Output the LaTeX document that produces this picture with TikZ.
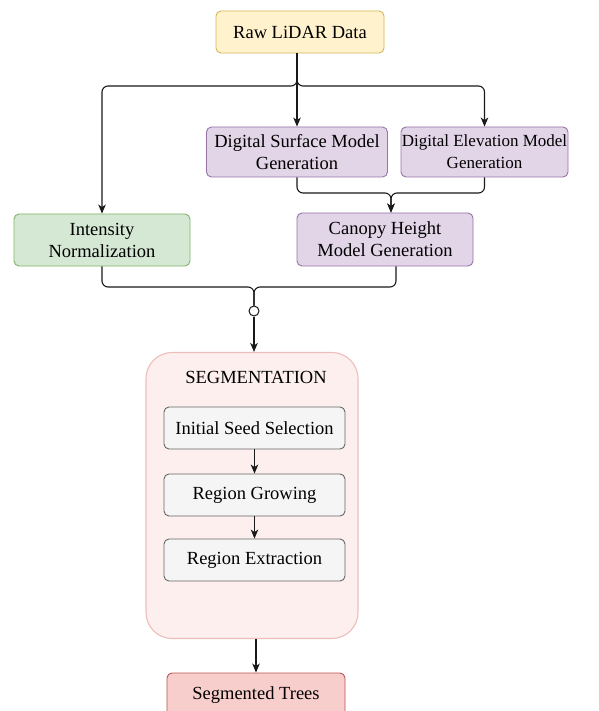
\documentclass[tikz,border=0pt]{standalone}
\usepackage{fontspec}
\setmainfont{Liberation Serif}
\usetikzlibrary{arrows.meta,positioning}

\definecolor{rawfill}{HTML}{FFF2CC}
\definecolor{rawline}{HTML}{D6B656}
\definecolor{modfill}{HTML}{E1D5E7}
\definecolor{modline}{HTML}{9673A6}
\definecolor{intfill}{HTML}{D5E8D4}
\definecolor{intline}{HTML}{82B366}
\definecolor{segfill}{HTML}{FCEFEE}
\definecolor{segline}{HTML}{EDBDBB}
\definecolor{stepfill}{HTML}{F5F5F5}
\definecolor{stepline}{HTML}{666666}
\definecolor{treefill}{HTML}{F8CECC}
\definecolor{treeline}{HTML}{B85450}

\begin{document}
\begin{tikzpicture}[x=1pt,y=-1pt,
    box/.style={draw, rounded corners=5pt, line width=0.9pt, align=center,
        inner sep=0pt, font=\fontsize{18.5}{22}\selectfont},
    modbox/.style={box, fill=modfill, draw=modline, minimum height=50pt},
    stepbox/.style={box, fill=stepfill, draw=stepline, minimum width=181pt, minimum height=42pt},
    link/.style={line width=1.1pt, draw=black!90, rounded corners=6pt,
        -{Stealth[length=9pt,width=7.5pt,inset=2.5pt]}}]
    \useasboundingbox (0,0) rectangle (598,711);

    % Input and height models
    \node[box, fill=rawfill, draw=rawline, minimum width=168pt, minimum height=42pt] (raw) at (300,32) {Raw LiDAR Data};
    \node[modbox, minimum width=181pt] (dsm) at (297,152) {Digital Surface Model\\Generation};
    \node[modbox, minimum width=167pt, font=\fontsize{17}{22}\selectfont] (dem) at (484.5,152) {Digital Elevation Model\\Generation};
    \node[box, fill=intfill, draw=intline, minimum width=176pt, minimum height=52pt] (int) at (102,240) {Intensity\\Normalization};
    \node[modbox, minimum width=176pt, minimum height=53pt] (chm) at (385,239.5) {Canopy Height\\Model Generation};

    % Segmentation block
    \node[box, fill=segfill, draw=segline, rounded corners=26pt, line width=1.1pt,
        minimum width=212pt, minimum height=286pt] (seg) at (252,495.5) {};
    \node[font=\fontsize{18.5}{22}\selectfont] (segtitle) at (256,377) {SEGMENTATION};
    \node[stepbox] (seed) at (254.5,428) {Initial Seed Selection};
    \node[stepbox] (grow) at (254.5,495) {Region Growing};
    \node[stepbox] (extr) at (254.5,560) {Region Extraction};

    % Output
    \node[box, fill=treefill, draw=treeline, minimum width=178pt, minimum height=56pt] (trees) at (256,701) {};
    \node[font=\fontsize{18.5}{22}\selectfont] (treetext) at (256,695) {Segmented Trees};

    % Branching from the raw data
    \coordinate (split) at (297,86);
    \draw[link] (raw.south -| split) -- (dsm.north);
    \draw[link] (raw.south -| split) -- (split) -| (int.north);
    \draw[link] (raw.south -| split) -- (split) -| (dem.north);

    % Surface and elevation models into the canopy model
    \coordinate (merge) at (391,193);
    \draw[link] (dsm.south) |- (merge) -- (merge |- chm.north);
    \draw[link] (dem.south) |- (merge) -- (merge |- chm.north);

    % Intensity and canopy model into segmentation
    \coordinate (join) at (254,287);
    \coordinate (chmout) at ([xshift=11pt]chm.south);
    \node[circle, draw=black!90, fill=white, line width=1pt, minimum size=10pt, inner sep=0pt] (dot) at (254,311) {};
    \draw[line width=1.1pt, draw=black!90, rounded corners=6pt] (int.south) |- (join) -- (dot.north);
    \draw[line width=1.1pt, draw=black!90, rounded corners=6pt] (chmout) |- (join) -- (dot.north);
    \draw[link] (dot.south) -- (dot.south |- seg.north);

    % Steps inside segmentation
    \draw[link] (seed) -- (grow);
    \draw[link] (grow) -- (extr);
    \draw[link] (seg.south -| trees.north) -- (trees.north);
\end{tikzpicture}
\end{document}
